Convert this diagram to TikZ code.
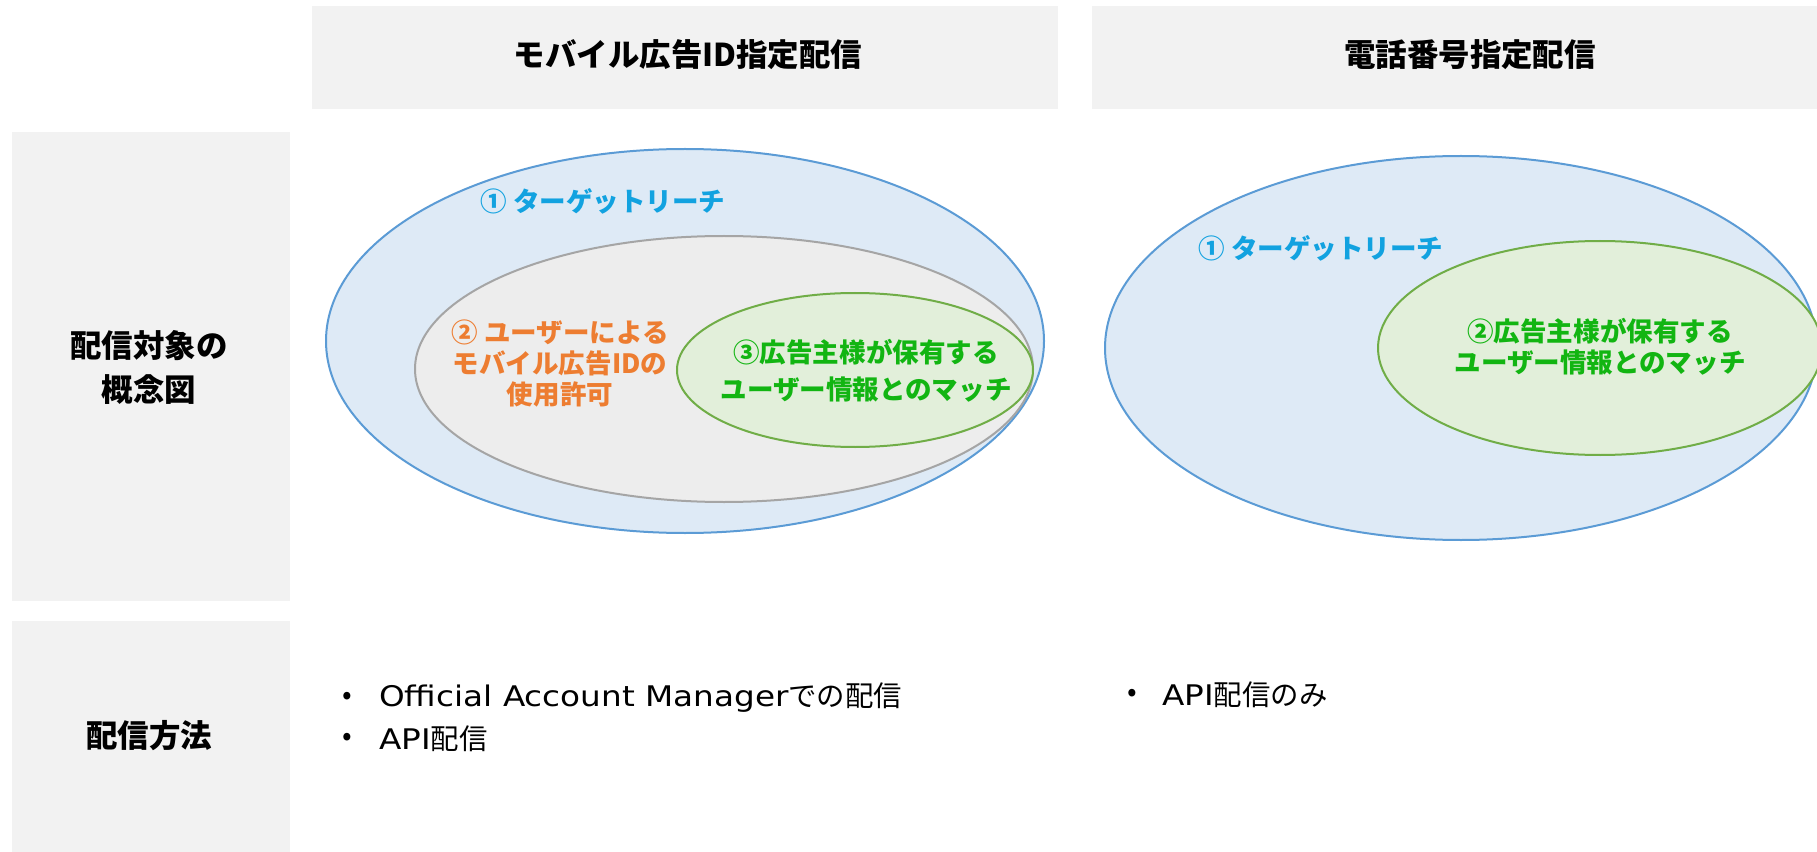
\documentclass[tikz,border=0pt]{standalone}
\usepackage{fontspec}
\setmainfont{Noto Sans CJK JP}
\newfontfamily\latfont[FakeStretch=1.15]{DejaVu Sans}
\definecolor{boxgray}{HTML}{F2F2F2}
\definecolor{bluefill}{HTML}{DEEAF6}
\definecolor{bluestroke}{HTML}{5B9BD5}
\definecolor{grayfill}{HTML}{EDEDED}
\definecolor{graystroke}{HTML}{A5A5A5}
\definecolor{greenfill}{HTML}{E2EFDA}
\definecolor{greenstroke}{HTML}{70AD47}
\definecolor{txtblue}{HTML}{12A2E0}
\definecolor{txtorange}{HTML}{ED7D31}
\definecolor{txtgreen}{HTML}{12B512}
\tikzset{
  cell/.style={fill=boxgray, draw=none},
  headtxt/.style={font=\bfseries\fontsize{23.6}{28}\selectfont, align=center, inner sep=0pt},
  celltxt/.style={font=\bfseries\fontsize{23.6}{33}\selectfont, align=center, inner sep=0pt},
  elltxt/.style={font=\bfseries\fontsize{19.9}{23.25}\selectfont, align=center, inner sep=0pt},
  listtxt/.style={font=\fontsize{21.3}{24}\selectfont, inner sep=0pt},
  outerell/.style={fill=bluefill, draw=bluestroke, line width=1.5pt},
  midell/.style={fill=grayfill, draw=graystroke, line width=1.5pt},
  innerell/.style={fill=greenfill, draw=greenstroke, line width=1.5pt}
}
\begin{document}
\begin{tikzpicture}[x=0.75pt,y=-0.75pt]
\useasboundingbox (0,0) rectangle (1817,852);
% cells
\fill[cell] (312,6) rectangle (1058,109);
\fill[cell] (1092,6) rectangle (1840,109);
\fill[cell] (12,132) rectangle (290,601);
\fill[cell] (12,621) rectangle (290,860);
% headers
\node[headtxt] (h1) at (688,55) {モバイル広告ID指定配信};
\node[headtxt] (h2) at (1470,55) {電話番号指定配信};
\node[celltxt] (r1) at (149,367) {配信対象の\\概念図};
\node[celltxt] (r2) at (149,736) {配信方法};
% left diagram
\draw[outerell] (685,341) ellipse [x radius=359, y radius=192];
\draw[midell] (724,369) ellipse [x radius=309, y radius=133];
\draw[innerell] (855,370) ellipse [x radius=178, y radius=77];
\node[elltxt, text=txtblue] (l1) at (603,201) {① ターゲットリーチ};
\node[elltxt, text=txtorange] (l2) at (560,363) {② ユーザーによる\\モバイル広告IDの\\使用許可};
\node[elltxt, text=txtgreen, font=\bfseries\fontsize{19.9}{27.75}\selectfont] (l3) at (866,371) {③広告主様が保有する\\ユーザー情報とのマッチ};
% right diagram
\draw[outerell] (1461,348) ellipse [x radius=356, y radius=192];
\draw[innerell] (1600,348) ellipse [x radius=222, y radius=107];
\node[elltxt, text=txtblue] (q1) at (1321,248) {① ターゲットリーチ};
\node[elltxt, text=txtgreen] (q2) at (1600,347) {②広告主様が保有する\\ユーザー情報とのマッチ};
% lists
\node[listtxt] (b1) at (347,698) {•};
\node[listtxt, anchor=west] (t1) at (379,698) {{\latfont Official Account Manager}での配信};
\node[listtxt] (b2) at (347,739) {•};
\node[listtxt, anchor=west] (t2) at (379,739) {{\latfont API}配信};
\node[listtxt] (b3) at (1132,695) {•};
\node[listtxt, anchor=west] (t3) at (1162,695) {{\latfont API}配信のみ};
\end{tikzpicture}
\end{document}
